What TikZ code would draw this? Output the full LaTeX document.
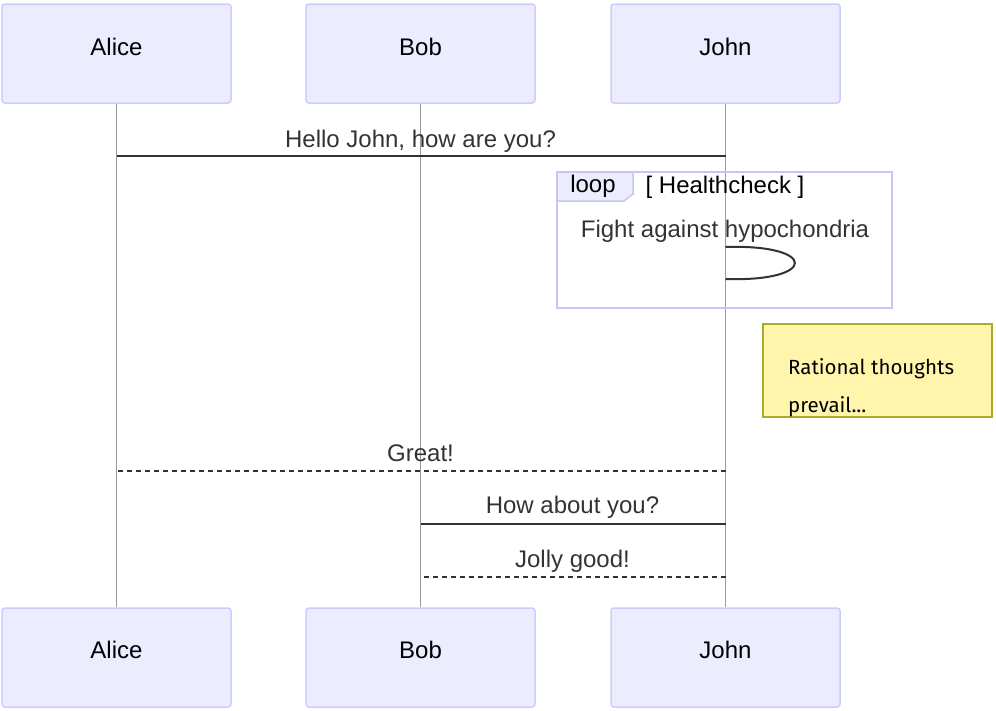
\documentclass[tikz,border=0pt]{standalone}
\usepackage{fontspec}
\setmainfont{Liberation Sans}
\newfontfamily\notefont{Fira Sans}
\definecolor{actfill}{HTML}{ECECFF}
\definecolor{actdraw}{HTML}{CCCCFF}
\definecolor{loopdraw}{HTML}{C6C6F6}
\definecolor{msgcol}{HTML}{333333}
\definecolor{lifecol}{HTML}{999999}
\definecolor{notefill}{HTML}{FFF5AD}
\definecolor{notedraw}{HTML}{AAAA33}
\tikzset{
  actor/.style={draw=actdraw, fill=actfill, line width=1.5pt, rounded corners=3pt,
    minimum width=229pt, minimum height=99pt, inner sep=0pt},
  actortext/.style={anchor=base, font=\fontsize{24}{28}\selectfont, text=black, inner sep=0pt},
  lifeline/.style={draw=lifecol, line width=1pt},
  msg/.style={draw=msgcol, line width=2pt},
  dmsg/.style={draw=msgcol, line width=2pt, dash pattern=on 4.5pt off 4.5pt},
  msgtext/.style={anchor=base, font=\fontsize{24}{28}\selectfont, text=msgcol, inner sep=0pt},
  notetext/.style={anchor=base west, font=\notefont\fontsize{20.5}{24}\selectfont, text=black, inner sep=0pt},
}
\begin{document}
\begin{tikzpicture}[x=1pt,y=-1pt]
\useasboundingbox (0,0) rectangle (996,710);
% actors
\node[actor] (at) at (116.5,53.5) {};
\node[actor] (bt) at (420.5,53.5) {};
\node[actor] (jt) at (725.5,53.5) {};
\node[actor] (ab) at (116.5,657.5) {};
\node[actor] (bb) at (420.5,657.5) {};
\node[actor] (jb) at (725.5,657.5) {};
\node[actortext] (atl) at (116.5,55) {Alice};
\node[actortext] (btl) at (420.5,55) {Bob};
\node[actortext] (jtl) at (725.5,55) {John};
\node[actortext] (abl) at (116.5,658) {Alice};
\node[actortext] (bbl) at (420.5,658) {Bob};
\node[actortext] (jbl) at (725.5,658) {John};
% lifelines
\coordinate (la1) at (116.5,104);
\coordinate (la2) at (116.5,607);
\coordinate (lb1) at (420.5,104);
\coordinate (lb2) at (420.5,607);
\coordinate (lj1) at (725.5,104);
\coordinate (lj2) at (725.5,607);
\draw[lifeline] (la1) -- (la2);
\draw[lifeline] (lb1) -- (lb2);
\draw[lifeline] (lj1) -- (lj2);
% message 1
\coordinate (m1a) at (116.5,156);
\coordinate (m1b) at (725.5,156);
\draw[msg] (m1a) -- (m1b);
\node[msgtext] (m1t) at (420.5,147) {Hello John, how are you?};
% loop
\coordinate (lp1) at (557,172);
\coordinate (lp2) at (892,308);
\draw[draw=loopdraw, line width=2pt] (lp1) rectangle (lp2);
\draw[draw=loopdraw, fill=actfill, line width=1.5pt] (557,172) -- (633,172) -- (633,194) -- (624,201) -- (557,201) -- cycle;
\node[msgtext, text=black] (lpl) at (593,192) {loop};
\node[msgtext, text=black] (lpc) at (725,193) {[ Healthcheck ]};
\node[msgtext] (selft) at (725,237) {Fight against hypochondria};
\coordinate (s1) at (725.5,247);
\coordinate (s2) at (725.5,279);
\draw[msg] (s1) .. controls (818,244) and (818,282) .. (s2);
% note
\node[draw=notedraw, fill=notefill, line width=1.2pt, minimum width=229pt, minimum height=93pt, inner sep=0pt] (note) at (877.5,370.5) {};
\node[notetext] (n1) at (788,374) {Rational thoughts};
\node[notetext] (n2) at (788,412) {prevail...};
% message 2
\coordinate (m2a) at (116.5,471);
\coordinate (m2b) at (725.5,471);
\draw[dmsg] (m2b) -- (m2a);
\node[msgtext] (m2t) at (420.5,461) {Great!};
% message 3
\coordinate (m3a) at (420.5,524);
\coordinate (m3b) at (725.5,524);
\draw[msg] (m3a) -- (m3b);
\node[msgtext] (m3t) at (572.5,513) {How about you?};
% message 4
\coordinate (m4a) at (420.5,577);
\coordinate (m4b) at (725.5,577);
\draw[dmsg] (m4b) -- (m4a);
\node[msgtext] (m4t) at (572.5,567) {Jolly good!};
\end{tikzpicture}
\end{document}
